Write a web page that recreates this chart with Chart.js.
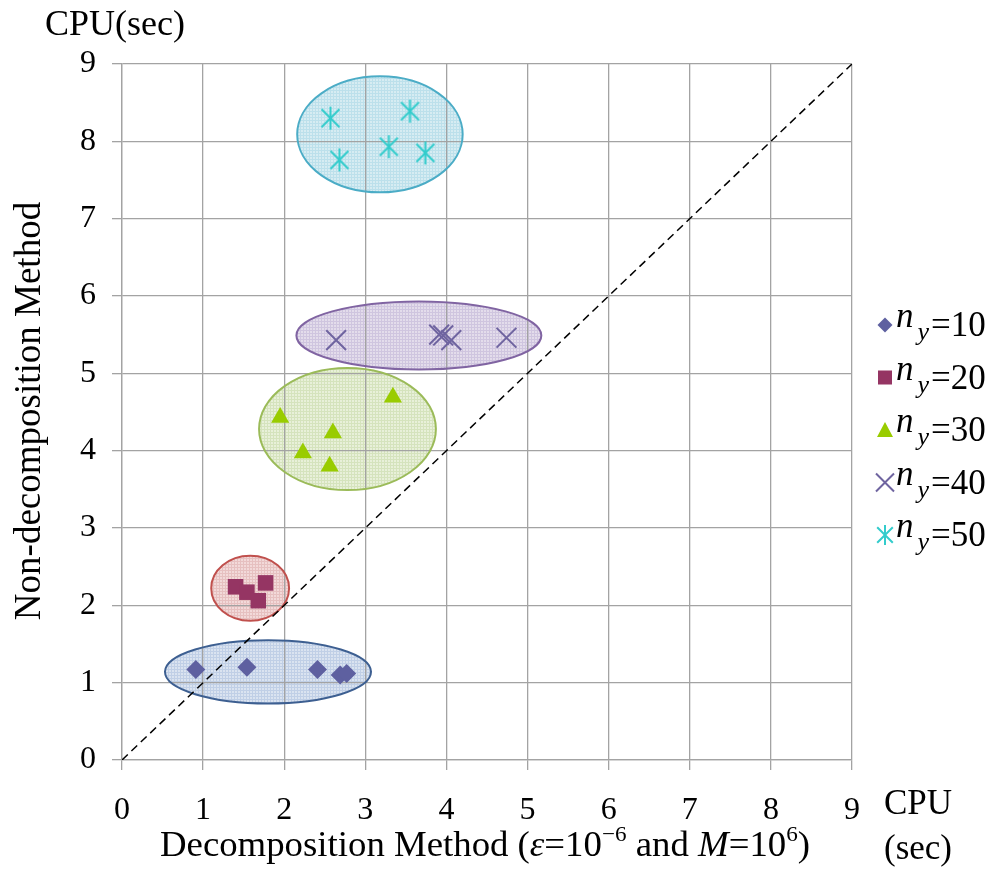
<!DOCTYPE html>
<html>
<head>
<meta charset="utf-8">
<script src="https://cdn.jsdelivr.net/npm/chart.js@4.4.0/dist/chart.umd.min.js"></script>
<style>
  body { margin: 0; background: #fff; }
  #wrap { width: 993px; height: 879px; position: relative; }
</style>
</head>
<body>
<div id="wrap"><canvas id="cpuChart"></canvas></div>
<script>
// --- Data ---
const seriesNames = ['10', '20', '30', '40', '50'];

const ny10X = [0.91, 1.54, 2.41, 2.69, 2.77];
const ny10Y = [1.17, 1.20, 1.17, 1.10, 1.12];

const ny20X = [1.40, 1.54, 1.68, 1.77];
const ny20Y = [2.24, 2.17, 2.06, 2.29];

const ny30X = [1.95, 2.23, 2.56, 2.60, 3.34];
const ny30Y = [4.43, 3.97, 3.80, 4.23, 4.69];

const ny40X = [2.64, 3.91, 3.96, 4.06, 4.74];
const ny40Y = [5.43, 5.50, 5.49, 5.43, 5.46];

const ny50X = [2.57, 2.68, 3.29, 3.55, 3.74];
const ny50Y = [8.30, 7.76, 7.93, 8.39, 7.85];

// equal-time reference line
const diagX = [0, 9];
const diagY = [0, 9];

// group highlight ellipses (data units)
const ellipseCX = [1.80, 1.58, 2.78, 3.66, 3.18];
const ellipseCY = [1.14, 2.22, 4.28, 5.49, 8.09];
const ellipseRX = [1.27, 0.48, 1.09, 1.51, 1.02];
const ellipseRY = [0.41, 0.42, 0.79, 0.44, 0.75];

const tickValues = [0, 1, 2, 3, 4, 5, 6, 7, 8, 9];

// --- Styling ---
const SERIF = "'Liberation Serif', 'Times New Roman', serif";
const markerColors = ['#5E60A0', '#953563', '#99CC00', '#6F64A0', '#33CCCC'];
const ringColors = ['#3D5F91', '#C0504D', '#9BBB59', '#8064A2', '#4BACC6'];
const ringFills = ['#DAE3F0', '#F2D9D9', '#E8F0D9', '#E3DCEB', '#D6ECF2'];
const ringLines = ['#C0CFE6', '#E6C0C0', '#D5E3BD', '#CFC5DF', '#BCE0EB'];

function zip(xs, ys) {
    return xs.map((x, i) => ({ x: x, y: ys[i] }));
}

// Excel style asterisk marker (X plus vertical bar)
function makeAsterisk(size, color) {
    const c = document.createElement('canvas');
    c.width = size; c.height = size;
    const g = c.getContext('2d');
    const m = size / 2, r = size / 2 - 1;
    const d = r * 0.78;
    g.strokeStyle = color;
    g.lineWidth = 2;
    g.beginPath();
    g.moveTo(m - d, m - d); g.lineTo(m + d, m + d);
    g.moveTo(m + d, m - d); g.lineTo(m - d, m + d);
    g.moveTo(m, m - r); g.lineTo(m, m + r);
    g.stroke();
    return c;
}
const asteriskBig = makeAsterisk(25, markerColors[4]);
const asteriskSmall = makeAsterisk(22, markerColors[4]);

function makePattern(ctx, base, line) {
    const c = document.createElement('canvas');
    c.width = 3; c.height = 3;
    const g = c.getContext('2d');
    g.fillStyle = base;
    g.fillRect(0, 0, 3, 3);
    g.fillStyle = line;
    g.fillRect(0, 0, 3, 1);
    g.fillRect(0, 0, 1, 3);
    return ctx.createPattern(c, 'repeat');
}

function ellipsePath(chart, i) {
    const { ctx, scales: { x, y } } = chart;
    const cx = ellipseCX[i], cy = ellipseCY[i];
    const px = x.getPixelForValue(cx), py = y.getPixelForValue(cy);
    const rx = Math.abs(x.getPixelForValue(cx + ellipseRX[i]) - px);
    const ry = Math.abs(y.getPixelForValue(cy + ellipseRY[i]) - py);
    ctx.beginPath();
    ctx.ellipse(px, py, rx, ry, 0, 0, Math.PI * 2);
}

// ellipses: fill under the grid, outline above it
const ellipsePlugin = {
    id: 'ellipses',
    beforeDraw(chart) {
        const ctx = chart.ctx;
        ctx.save();
        ellipseCX.forEach((cx, i) => {
            ellipsePath(chart, i);
            ctx.fillStyle = makePattern(ctx, ringFills[i], ringLines[i]);
            ctx.fill();
        });
        ctx.restore();
    },
    beforeDatasetsDraw(chart) {
        const ctx = chart.ctx;
        ctx.save();
        ellipseCX.forEach((cx, i) => {
            ellipsePath(chart, i);
            ctx.strokeStyle = ringColors[i];
            ctx.lineWidth = 2;
            ctx.stroke();
        });
        ctx.restore();
    }
};

// draw a line of text made of differently styled runs
function drawRuns(ctx, runs, x, baseline) {
    runs.forEach(r => {
        ctx.font = r.font;
        ctx.fillText(r.text, x, baseline + (r.dy || 0));
        x += ctx.measureText(r.text).width + (r.gap || 0);
    });
}

function runsWidth(ctx, runs) {
    let w = 0;
    runs.forEach(r => { ctx.font = r.font; w += ctx.measureText(r.text).width + (r.gap || 0); });
    return w;
}

function legendMarker(ctx, i, cx, cy) {
    ctx.save();
    ctx.fillStyle = markerColors[i];
    ctx.strokeStyle = markerColors[i];
    ctx.beginPath();
    if (i === 0) {
        const r = 7.5;
        ctx.moveTo(cx, cy - r); ctx.lineTo(cx + r, cy); ctx.lineTo(cx, cy + r); ctx.lineTo(cx - r, cy);
        ctx.closePath(); ctx.fill();
    } else if (i === 1) {
        ctx.fillRect(cx - 7, cy - 7, 14, 14);
    } else if (i === 2) {
        ctx.moveTo(cx, cy - 8); ctx.lineTo(cx + 8, cy + 7); ctx.lineTo(cx - 8, cy + 7);
        ctx.closePath(); ctx.fill();
    } else if (i === 3) {
        ctx.lineWidth = 2;
        ctx.moveTo(cx - 9, cy - 9); ctx.lineTo(cx + 9, cy + 9);
        ctx.moveTo(cx + 9, cy - 9); ctx.lineTo(cx - 9, cy + 9);
        ctx.stroke();
    } else {
        ctx.drawImage(asteriskSmall, cx - 11, cy - 11);
    }
    ctx.restore();
}

// titles and legend are drawn by hand (italic / sub / superscripts)
const textPlugin = {
    id: 'texts',
    afterDraw(chart) {
        const ctx = chart.ctx;
        ctx.save();
        ctx.fillStyle = '#000';
        ctx.textBaseline = 'alphabetic';
        ctx.textAlign = 'left';

        ctx.font = '36px ' + SERIF;
        ctx.fillText('CPU(sec)', 45, 35);

        ctx.font = '35px ' + SERIF;
        ctx.fillText('CPU', 884, 814);
        ctx.fillText('(sec)', 884, 859);

        // x title, stretched to the reference width
        const n = '35px ' + SERIF, it = 'italic 35px ' + SERIF, sup = '22px ' + SERIF;
        const xRuns = [
            { text: 'Decomposition Method (', font: n },
            { text: 'ε', font: it },
            { text: '=10', font: n },
            { text: '−6', font: sup, dy: -15 },
            { text: ' and ', font: n },
            { text: 'M', font: it },
            { text: '=10', font: n },
            { text: '6', font: sup, dy: -15 },
            { text: ')', font: n }
        ];
        const sx = 650 / runsWidth(ctx, xRuns);
        ctx.save();
        ctx.translate(160, 856);
        ctx.scale(sx, 1);
        drawRuns(ctx, xRuns, 0, 0);
        ctx.restore();

        ctx.save();
        ctx.translate(30, 411);
        ctx.rotate(-Math.PI / 2);
        ctx.textAlign = 'center';
        ctx.textBaseline = 'middle';
        ctx.font = '37px ' + SERIF;
        ctx.fillText('Non-decomposition Method', 0, 0);
        ctx.restore();

        seriesNames.forEach((name, i) => {
            const b = 336 + i * 52.5;
            legendMarker(ctx, i, 885, b - 11);
            drawRuns(ctx, [
                { text: 'n', font: 'italic 35px ' + SERIF, dy: -9, gap: 4 },
                { text: 'y', font: 'italic 26px ' + SERIF, dy: 4, gap: 2 },
                { text: '=' + name, font: '35px ' + SERIF }
            ], 896, b);
        });
        ctx.restore();
    }
};

const gridColor = '#A3A3A3';

new Chart(document.getElementById('cpuChart'), {
    type: 'scatter',
    data: {
        datasets: [
            {
                label: 'diag', type: 'line', data: zip(diagX, diagY),
                borderColor: '#000', borderWidth: 1.5, borderDash: [8, 5],
                pointRadius: 0, fill: false, order: 10
            },
            {
                label: 'ny=10', data: zip(ny10X, ny10Y), pointStyle: 'rectRot',
                pointRadius: 9.5, backgroundColor: markerColors[0], borderColor: markerColors[0], borderWidth: 0
            },
            {
                label: 'ny=20', data: zip(ny20X, ny20Y), pointStyle: 'rect',
                pointRadius: 11, backgroundColor: markerColors[1], borderColor: markerColors[1], borderWidth: 0
            },
            {
                label: 'ny=30', data: zip(ny30X, ny30Y), pointStyle: 'triangle',
                pointRadius: 10.5, backgroundColor: markerColors[2], borderColor: markerColors[2], borderWidth: 0
            },
            {
                label: 'ny=40', data: zip(ny40X, ny40Y), pointStyle: 'crossRot',
                pointRadius: 14, borderColor: markerColors[3], borderWidth: 2
            },
            {
                label: 'ny=50', data: zip(ny50X, ny50Y), pointStyle: asteriskBig,
                pointRadius: 12, borderColor: markerColors[4]
            }
        ]
    },
    options: {
        responsive: true,
        maintainAspectRatio: false,
        animation: false,
        layout: { padding: { top: 64, right: 141, left: 0, bottom: 0 } },
        plugins: {
            legend: { display: false },
            tooltip: { enabled: false }
        },
        scales: {
            x: {
                type: 'linear', min: 0, max: 9,
                afterFit: s => { s.height = 119; },
                afterBuildTicks: s => { s.ticks = tickValues.map(v => ({ value: v })); },
                grid: { color: gridColor, lineWidth: 1.3, tickLength: 10, tickColor: gridColor },
                border: { color: gridColor, width: 1.3 },
                ticks: { color: '#000', padding: 21, font: { family: SERIF, size: 32 } }
            },
            y: {
                type: 'linear', min: 0, max: 9,
                afterFit: s => { s.width = 122; },
                afterBuildTicks: s => { s.ticks = tickValues.map(v => ({ value: v })); },
                grid: { color: gridColor, lineWidth: 1.3, tickLength: 10, tickColor: gridColor },
                border: { color: gridColor, width: 1.3 },
                ticks: { color: '#000', padding: 16, font: { family: SERIF, size: 32 } }
            }
        }
    },
    plugins: [ellipsePlugin, textPlugin]
});
</script>
</body>
</html>
